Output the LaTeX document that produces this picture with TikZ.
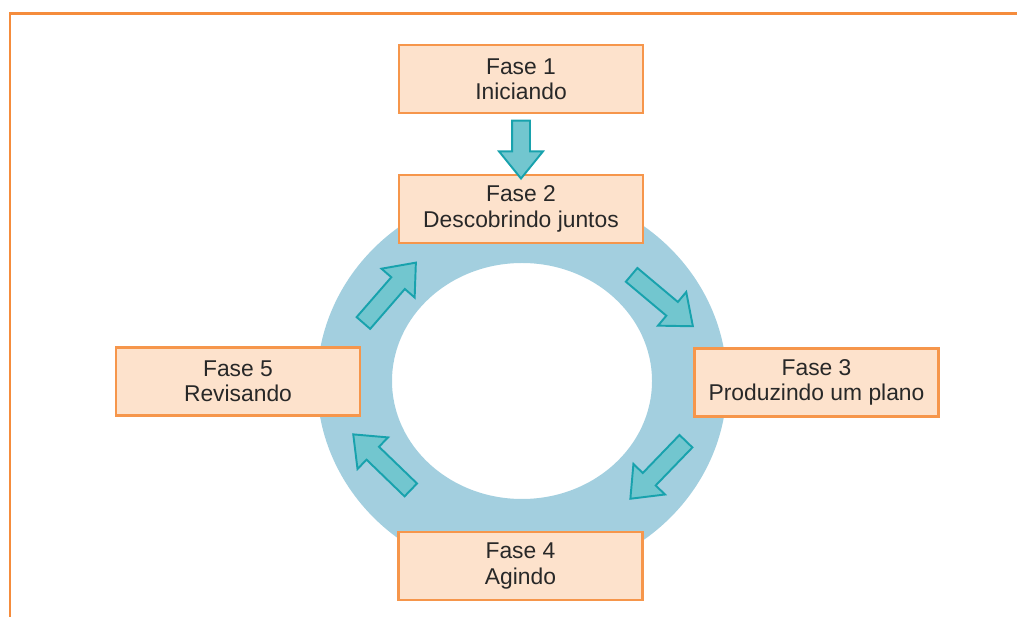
\documentclass[tikz,border=0pt]{standalone}
\usepackage{fontspec}
\setmainfont{Liberation Sans}
\usetikzlibrary{shapes.arrows,calc}
\definecolor{framebar}{RGB}{245,140,60}
\definecolor{ringblue}{RGB}{163,207,223}
\definecolor{arrowfill}{RGB}{114,198,207}
\definecolor{arrowline}{RGB}{24,162,173}
\definecolor{phasefill}{RGB}{253,226,204}
\definecolor{phaseline}{RGB}{246,150,75}
\definecolor{phasetext}{RGB}{40,40,40}

\begin{document}
\begin{tikzpicture}[x=0.02cm,y=-0.02cm,
  phase/.style={draw=phaseline,line width=1.2pt,fill=phasefill,text=phasetext,
    minimum width=4.88cm,minimum height=1.36cm,align=center,
    font=\fontsize{13}{14.5}\selectfont},
  flow/.style={single arrow,draw=arrowline,line width=1.1pt,fill=arrowfill,
    minimum height=1.6cm,single arrow head extend=0.26cm,
    single arrow tip angle=78,inner sep=0.16cm}]
  \useasboundingbox (0,0) rectangle (1017,617);
  % frame lines
  \draw[framebar,line width=1.7pt] (10,617) -- (10,14) -- (1017,14);
  % ring behind the phases
  \fill[ringblue,even odd rule] (522,383) ellipse [x radius=205,y radius=195]
    (522,381) ellipse [x radius=130,y radius=118];
  \coordinate (ring) at (522,381.5);
  \node[phase] (f1) at (521,79) {Fase 1\\Iniciando};
  \node[phase] (f2) at (521,209) {Fase 2\\Descobrindo juntos};
  \node[phase] (f3) at (816.5,382.5) {Fase 3\\Produzindo um plano};
  \node[phase] (f4) at (520.5,566) {Fase 4\\Agindo};
  \node[phase] (f5) at (238,381.5) {Fase 5\\Revisando};
  \path (f1.south) -- node[flow,minimum height=1.16cm,rotate=-90] (a12) {} (f2.north);
  % arrows round the ring
  \foreach \nm/\ang/\dx/\dy in {a23/-40/136/-84.5, a34/-134/140/84.5,
                                a45/136/-136/84.5, a51/49/-136/-84.5}
    \node[flow,rotate=\ang] (\nm) at ($(ring)+(\dx,\dy)$) {};
\end{tikzpicture}
\end{document}
